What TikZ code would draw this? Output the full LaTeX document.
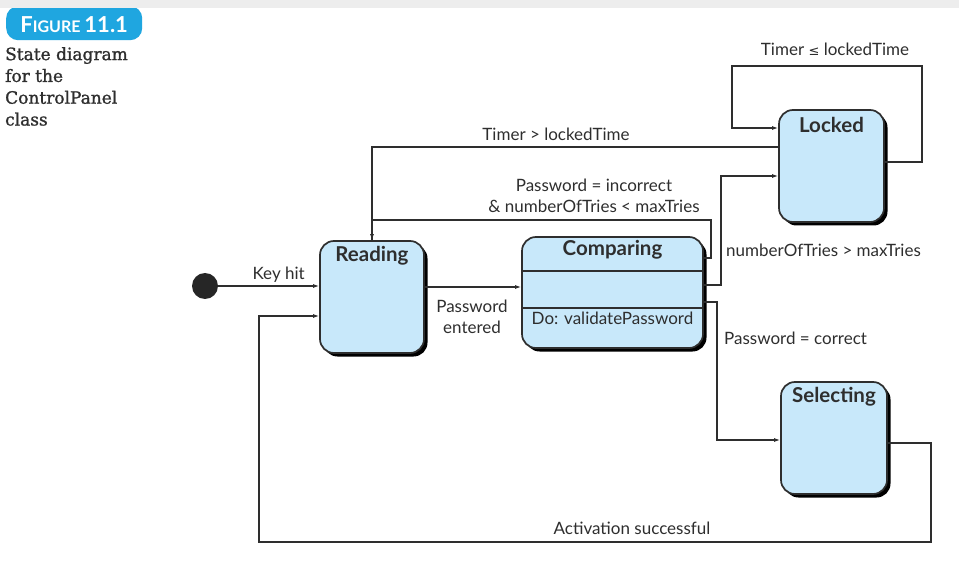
\documentclass[tikz,border=0pt]{standalone}
\usepackage{fontspec}
\setmainfont{Lato}
\newfontfamily\capfont[FakeBold=1.2]{DejaVu Serif}
\newfontfamily\symfont{DejaVu Sans}
\usetikzlibrary{shadows,arrows.meta}
\definecolor{boxfill}{HTML}{C8E8FA}
\definecolor{ink}{HTML}{2E2E2E}
\definecolor{figblue}{HTML}{1FA6E0}
\begin{document}
\begin{tikzpicture}[x=1pt,y=-1pt,
  state/.style={draw=ink, line width=1.7pt, fill=boxfill, rounded corners=14pt,
    drop shadow={shadow xshift=3.5pt, shadow yshift=-3.5pt, fill=black, opacity=1},
    inner sep=0pt},
  sname/.style={font=\fontsize{20.5}{22}\selectfont\bfseries, text=ink},
  lbl/.style={font=\fontsize{17}{20}\selectfont, text=ink, inner sep=1pt},
  conn/.style={draw=ink, line width=1.2pt},
  arr/.style={conn, -{Latex[length=6pt,width=4pt]}}
]
\useasboundingbox (0,0) rectangle (959,564);
\fill[white] (0,0) rectangle (959,564);

% figure tag
\node[fill=figblue, rounded corners=12pt, minimum width=136pt, minimum height=34pt, inner sep=0pt, anchor=north west] (tag) at (6,6) {};
\node[text=white, font=\bfseries] (tagtxt) at ([yshift=-1pt]tag.center) {\fontsize{22}{22}\selectfont F\fontsize{16}{16}\selectfont IGURE\ \fontsize{22}{22}\selectfont 11.1};
\fill[black!7] (0,0) rectangle (959,8);

% caption
\node[anchor=north west, align=left, inner sep=0pt, font=\capfont\fontsize{17}{21.8}\selectfont, text=ink] (cap) at (5,47)
  {State diagram\\for the\\ControlPanel\\class};

% states
\node[state, minimum width=104pt, minimum height=112pt] (rd) at (372,297) {};
\node[sname, anchor=north] (rdt) at (rd.north) [yshift=-3pt] {Reading};

\node[state, minimum width=181pt, minimum height=111pt] (cmp) at (612.5,292.5) {};
\node[sname, anchor=north] (cmpt) at (cmp.north) [yshift=-1pt] {Comparing};
\coordinate (d1) at (0,271);
\coordinate (d2) at (0,308);
\draw[draw=ink, line width=1.4pt] (cmp.west |- d1) -- (cmp.east |- d1);
\draw[draw=ink, line width=1.4pt] (cmp.west |- d2) -- (cmp.east |- d2);
\node[lbl, anchor=north] (act) at (cmp.center |- d2) [yshift=-3pt] {Do: validatePassword};

\node[state, minimum width=105pt, minimum height=112pt] (lk) at (831.5,166) {};
\node[sname, anchor=north] (lkt) at (lk.north) [yshift=-5pt] {Locked};

\node[state, minimum width=106pt, minimum height=112pt] (sel) at (834,438) {};
\node[sname, anchor=north] (selt) at (sel.north) [yshift=-3pt] {Selecting};

% initial
\node[circle, fill=black!85, minimum size=26pt, inner sep=0pt] (init) at (205,286) {};

% connectors
\draw[arr] (init) -- (rd.west |- init) node[lbl, midway, above, xshift=10pt, yshift=2pt] (keyl) {Key hit};

\coordinate (pe) at (0,287);
\draw[arr] (rd.east |- pe) -- (cmp.west |- pe);
\node[lbl, align=center, font=\fontsize{17}{21}\selectfont] (pel) at (472,317) {Password\\entered};

% Timer > lockedTime
\coordinate (tl) at (0,147);
\draw[arr] (lk.west |- tl) -| (rd.north);
\node[lbl] (tll) at (556,134) {Timer > lockedTime};

% incorrect
\coordinate (ic1) at (711,258);
\coordinate (ic2) at (711,220);
\draw[conn] (cmp.east |- ic1) -- (ic1) -- (ic2) -| (rd.north);
\node[lbl, align=center, font=\fontsize{17}{20.5}\selectfont] (icl) at (594,196) {Password = incorrect\\\& numberOfTries < maxTries};

% self loop
\coordinate (sl1) at (922,162);
\coordinate (sl2) at (922,66);
\coordinate (sl3) at (732,66);
\coordinate (sl4) at (732,128);
\draw[arr] (lk.east |- sl1) -- (sl1) -- (sl2) -- (sl3) -- (sl4) -- (lk.west |- sl4);
\node[lbl] (sll) at (835,49) {Timer {\symfont\fontsize{13}{16}\selectfont ≤} lockedTime};

% numberOfTries > maxTries
\coordinate (nt1) at (721,285);
\coordinate (nt2) at (721,176);
\draw[arr] (cmp.east |- nt1) -- (nt1) -- (nt2) -- (lk.west |- nt2);
\node[lbl, anchor=west] (ntl) at (725,250) {numberOfTries > maxTries};

% correct
\coordinate (pc1) at (717,302);
\coordinate (pc2) at (717,440);
\draw[arr] (cmp.east |- pc1) -- (pc1) -- (pc2) -- (sel.west |- pc2);
\node[lbl, anchor=west] (pcl) at (723,338) {Password = correct};

% activation
\coordinate (as1) at (931,443);
\coordinate (as2) at (931,542);
\coordinate (as3) at (259,542);
\coordinate (as4) at (259,316);
\draw[arr] (sel.east |- as1) -- (as1) -- (as2) -- (as3) -- (as4) -- (rd.west |- as4);
\node[lbl] (asl) at (632,528) {Activation successful};
\end{tikzpicture}
\end{document}
